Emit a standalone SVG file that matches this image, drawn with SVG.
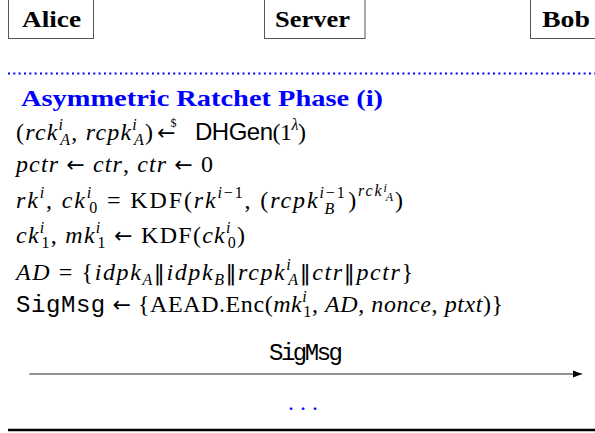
<svg xmlns="http://www.w3.org/2000/svg" width="595" height="433" viewBox="0 0 595 433">
<defs>
<style>
.box{fill:#fff;stroke:#555;stroke-width:1}
.lbl{font-family:"Liberation Serif","DejaVu Serif",serif;font-weight:bold;font-size:23px;fill:#000}
.m{font-family:"Liberation Serif","DejaVu Serif",serif;font-size:24px;fill:#000}
.i{font-style:italic}
.s{font-size:16px}
.ss{font-size:12px}
.sf{font-family:"Liberation Sans","DejaVu Sans",sans-serif}
.tt{font-family:"Liberation Mono","DejaVu Sans Mono",monospace}
.ar{font-family:"DejaVu Sans",sans-serif;font-size:22px}
.blue{fill:#0000ff}
</style>
<marker id="ah" markerWidth="10" markerHeight="8" refX="9" refY="4" orient="auto" markerUnits="userSpaceOnUse">
<path d="M0,0.5 L9,4 L0,7.5 Z" fill="#000"/>
</marker>
</defs>
<rect width="595" height="433" fill="#fff"/>
<g id="node-alice">
<rect class="box" x="8.5" y="-10" width="85" height="48.5"/>
<text class="lbl" x="22" y="27" textLength="59" lengthAdjust="spacingAndGlyphs">Alice</text>
</g>
<g id="node-server">
<rect class="box" x="264.5" y="-10" width="100.5" height="48.5"/>
<text class="lbl" x="275" y="27" textLength="75" lengthAdjust="spacingAndGlyphs">Server</text>
</g>
<g id="node-bob">
<rect class="box" x="530.5" y="-10" width="80" height="48.5"/>
<text class="lbl" x="542" y="27" textLength="48" lengthAdjust="spacingAndGlyphs">Bob</text>
</g>
<g id="phase">
<line x1="8" y1="73.5" x2="595" y2="73.5" stroke="#0000ff" stroke-width="2" stroke-dasharray="2 3.33"/>
<text class="lbl blue" x="21" y="106" font-size="24" textLength="362" lengthAdjust="spacingAndGlyphs">Asymmetric Ratchet Phase (i)</text>
<text class="m" x="16" y="140" textLength="137">(<tspan class="i">rck</tspan><tspan class="s i" dy="-10">i</tspan><tspan class="s i" dx="-4" dy="15">A</tspan><tspan dy="-5">, </tspan><tspan class="i">rcpk</tspan><tspan class="s i" dy="-10">i</tspan><tspan class="s i" dx="-4" dy="15">A</tspan><tspan dy="-5">)</tspan></text>
<text class="ar" x="157" y="140">←<tspan font-family="Liberation Serif, serif" font-size="12" dx="-5" dy="-13">$</tspan></text>
<text class="m" x="195" y="140" textLength="111"><tspan class="sf">DHGen</tspan>(1<tspan class="s i" dy="-10">λ</tspan><tspan dy="10">)</tspan></text>
<text class="m" x="16" y="172" textLength="197"><tspan class="i">pctr</tspan> <tspan class="ar">←</tspan> <tspan class="i">ctr</tspan>, <tspan class="i">ctr</tspan> <tspan class="ar">←</tspan> 0</text>
<text class="m" x="16" y="208" textLength="387"><tspan class="i">rk</tspan><tspan class="s i" dy="-10">i</tspan><tspan dy="10">, </tspan><tspan class="i">ck</tspan><tspan class="s i" dy="-10">i</tspan><tspan class="s" dx="-4" dy="15">0</tspan><tspan dy="-5"> = KDF(</tspan><tspan class="i">rk</tspan><tspan class="s" dy="-10"><tspan class="i">i</tspan>−1</tspan><tspan dy="10">, (</tspan><tspan class="i">rcpk</tspan><tspan class="s" dy="-10"><tspan class="i">i</tspan>−1</tspan><tspan class="s i" dx="-22" dy="16">B</tspan><tspan dx="12" dy="-6">)</tspan><tspan class="s i" dy="-12">rck</tspan><tspan class="ss i" dy="-4">i</tspan><tspan class="ss i" dx="-3" dy="9">A</tspan><tspan dy="7">)</tspan></text>
<text class="m" x="16" y="243" textLength="229"><tspan class="i">ck</tspan><tspan class="s i" dy="-10">i</tspan><tspan class="s" dx="-4" dy="15">1</tspan><tspan dy="-5">, </tspan><tspan class="i">mk</tspan><tspan class="s i" dy="-10">i</tspan><tspan class="s" dx="-4" dy="15">1</tspan><tspan dy="-5"> </tspan><tspan class="ar">←</tspan> KDF(<tspan class="i">ck</tspan><tspan class="s i" dy="-10">i</tspan><tspan class="s" dx="-4" dy="15">0</tspan><tspan dy="-5">)</tspan></text>
<text class="m" x="16" y="280" textLength="397"><tspan class="i">AD</tspan> = {<tspan class="i">idpk</tspan><tspan class="s i" dy="5">A</tspan><tspan class="ar" dy="-5">‖</tspan><tspan class="i">idpk</tspan><tspan class="s i" dy="5">B</tspan><tspan class="ar" dy="-5">‖</tspan><tspan class="i">rcpk</tspan><tspan class="s i" dy="-10">i</tspan><tspan class="s i" dx="-4" dy="15">A</tspan><tspan class="ar" dy="-5">‖</tspan><tspan class="i">ctr</tspan><tspan class="ar">‖</tspan><tspan class="i">pctr</tspan>}</text>
<text class="m" x="16" y="312" textLength="487"><tspan class="tt">SigMsg</tspan> <tspan class="ar">←</tspan> {AEAD.Enc(<tspan class="i">mk</tspan><tspan class="s i" dy="-10">i</tspan><tspan class="s" dx="-4" dy="15">1</tspan><tspan dy="-5">, </tspan><tspan class="i">AD</tspan>, <tspan class="i">nonce</tspan>, <tspan class="i">ptxt</tspan>)}</text>
</g>
<g id="connectors">
<line x1="29.3" y1="374" x2="582" y2="374" stroke="#222" stroke-width="1" marker-end="url(#ah)"/>
<text class="m tt" x="306" y="360" font-size="21" text-anchor="middle" textLength="74">SigMsg</text>
</g>
<text class="m blue" x="303" y="410" text-anchor="middle" font-size="16">. . .</text>
<line x1="8" y1="430" x2="595" y2="430" stroke="#000" stroke-width="2.6"/>
</svg>
